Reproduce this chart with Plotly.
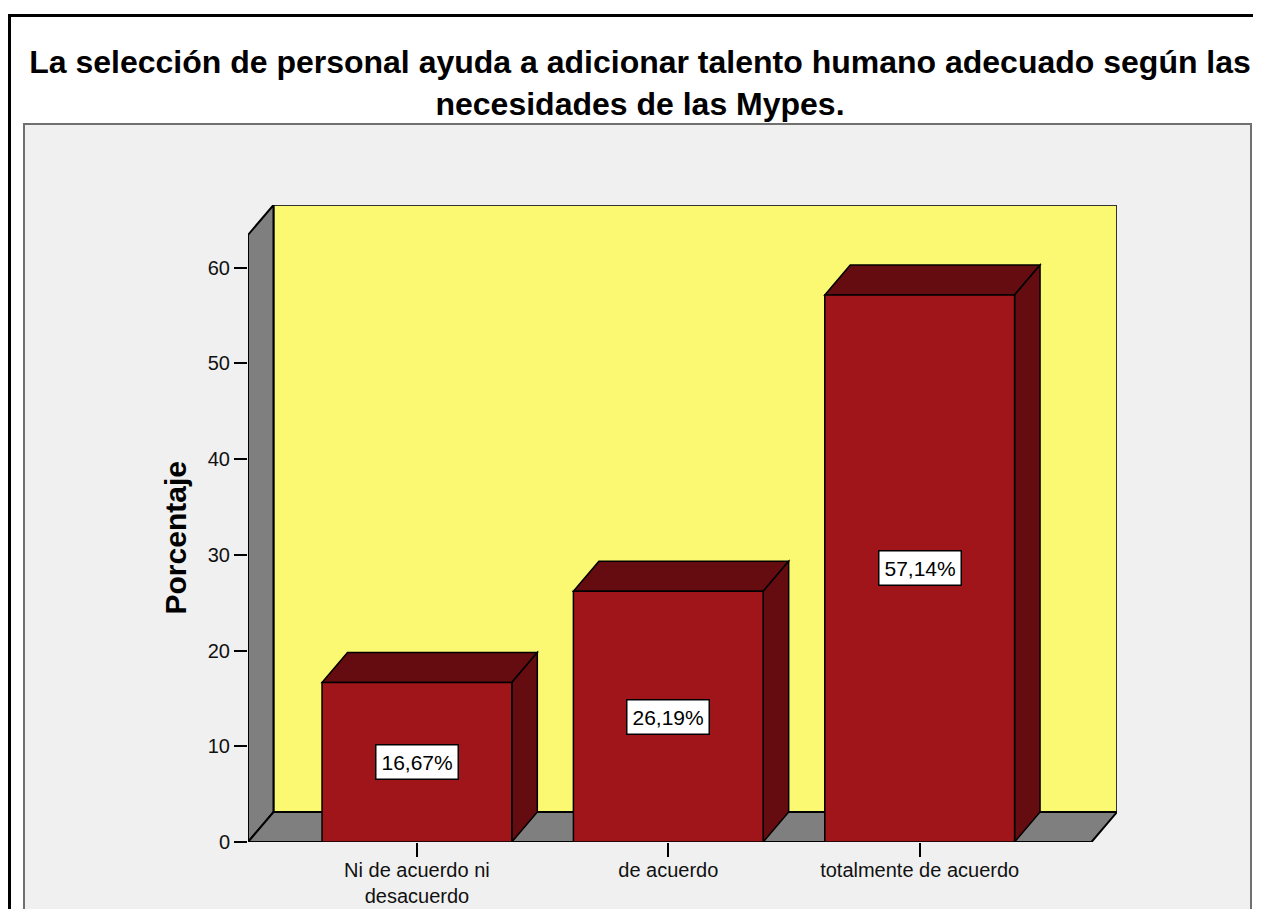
import plotly.graph_objects as go

# ---------------- data ----------------
categories = ["Ni de acuerdo ni<br>desacuerdo", "de acuerdo", "totalmente de acuerdo"]
percentages = [16.67, 26.19, 57.14]
value_labels = ["16,67%", "26,19%", "57,14%"]
y_ticks = [0, 10, 20, 30, 40, 50, 60]
title_text = ("La selección de personal ayuda a adicionar talento humano adecuado según las"
              "<br>necesidades de las Mypes.")
y_title = "Porcentaje"

# ---------------- layout geometry ----------------
OFF = 8                      # page body margin
W, H = 1261 - OFF, 909 - OFF
ML, MT = 248 - OFF, 205 - OFF
MR = W - (1117 - OFF)
MB = H - (842 - OFF)
PW, PH = W - ML - MR, H - MT - MB

X_MIN, X_MAX = -0.672, 2.785      # axis range (categories at 0,1,2)
DX = 0.1014                        # 3D depth along x (data units)
WALL_H = 63.4                      # front height of the side wall
DY = 3.13                          # 3D depth along y (data units)
Y_MAX = WALL_H + DY
BAR_W = 0.755

FONT = "Arial, Liberation Sans, sans-serif"
BAR_FRONT = "#a01519"
BAR_DARK = "#640c10"
WALL_GRAY = "#7f7f7f"
WALL_YELLOW = "#fbf872"


def pxx(p):
    return (p - OFF - ML) / PW


def pxy(p):
    return (H - MB - (p - OFF)) / PH


shapes = []
# outer black frame
shapes.append(dict(type="rect", xref="paper", yref="paper", layer="below",
                   x0=pxx(9.5), x1=pxx(1320), y0=pxy(1000), y1=pxy(15.5),
                   line=dict(color="black", width=3), fillcolor="white"))
# gray chart panel
shapes.append(dict(type="rect", xref="paper", yref="paper", layer="below",
                   x0=pxx(24), x1=pxx(1251), y0=pxy(1000), y1=pxy(124),
                   line=dict(color="#707070", width=2), fillcolor="#f0f0f0"))
# back wall
shapes.append(dict(type="rect", xref="x", yref="y", layer="below",
                   x0=X_MIN + DX, x1=X_MAX, y0=DY, y1=Y_MAX,
                   line=dict(color="#333333", width=2), fillcolor=WALL_YELLOW))
# left wall
shapes.append(dict(type="path", xref="x", yref="y", layer="below",
                   path=f"M {X_MIN},0 L {X_MIN},{WALL_H} L {X_MIN + DX},{Y_MAX} "
                        f"L {X_MIN + DX},{DY} Z",
                   line=dict(color="black", width=2), fillcolor=WALL_GRAY))
# floor
shapes.append(dict(type="path", xref="x", yref="y", layer="below",
                   path=f"M {X_MIN},0 L {X_MAX - DX},0 L {X_MAX},{DY} "
                        f"L {X_MIN + DX},{DY} Z",
                   line=dict(color="black", width=2), fillcolor=WALL_GRAY))
# bar tops and sides
for i, v in enumerate(percentages):
    x0, x1 = i - BAR_W / 2, i + BAR_W / 2
    shapes.append(dict(type="path", xref="x", yref="y", layer="below",
                       path=f"M {x0},{v} L {x0 + DX},{v + DY} L {x1 + DX},{v + DY} L {x1},{v} Z",
                       line=dict(color="black", width=1.5), fillcolor=BAR_DARK))
    shapes.append(dict(type="path", xref="x", yref="y", layer="below",
                       path=f"M {x1},0 L {x1},{v} L {x1 + DX},{v + DY} L {x1 + DX},{DY} Z",
                       line=dict(color="black", width=1.5), fillcolor=BAR_DARK))

fig = go.Figure()
fig.add_trace(go.Bar(
    x=list(range(len(categories))), y=percentages, width=BAR_W,
    marker=dict(color=BAR_FRONT, line=dict(color="black", width=1.5)),
    hoverinfo="skip", showlegend=False,
))

annotations = []
for i, (v, t) in enumerate(zip(percentages, value_labels)):
    annotations.append(dict(x=i, y=v / 2, xref="x", yref="y", text=t, showarrow=False,
                            font=dict(family=FONT, size=21, color="black"),
                            bgcolor="white", bordercolor="black", borderwidth=1.5,
                            borderpad=5))
annotations.append(dict(x=0, xref="paper", xshift=-73, y=WALL_H / 2, yref="y",
                        text=f"<b>{y_title}</b>", textangle=-90, showarrow=False,
                        xanchor="center", yanchor="middle",
                        font=dict(family=FONT, size=30, color="black")))

fig.update_layout(
    template="none",
    width=W, height=H,
    margin=dict(l=ML, r=MR, t=MT, b=MB, pad=0),
    paper_bgcolor="white",
    plot_bgcolor="rgba(0,0,0,0)",
    showlegend=False,
    title=dict(text=f"<b>{title_text}</b>", x=(640 - OFF) / W, xanchor="center",
               y=1 - 65 / H, yanchor="middle", yref="container",
               font=dict(family=FONT, size=32, color="black")),
    shapes=shapes,
    annotations=annotations,
    xaxis=dict(range=[X_MIN, X_MAX], tickvals=list(range(len(categories))),
               ticktext=categories, ticks="outside", ticklen=14, tickwidth=1.5,
               tickcolor="black", showgrid=False, zeroline=False, showline=False,
               automargin=False, fixedrange=True, ticklabelstandoff=-4,
               tickfont=dict(family=FONT, size=20, color="#111111")),
    yaxis=dict(range=[0, Y_MAX], tickvals=y_ticks, ticks="outside", ticklen=13,
               tickwidth=1.5, tickcolor="black", showgrid=False, zeroline=False,
               showline=False, automargin=False, fixedrange=True,
               tickfont=dict(family=FONT, size=20, color="#111111")),
)

fig.write_html("out.html")
